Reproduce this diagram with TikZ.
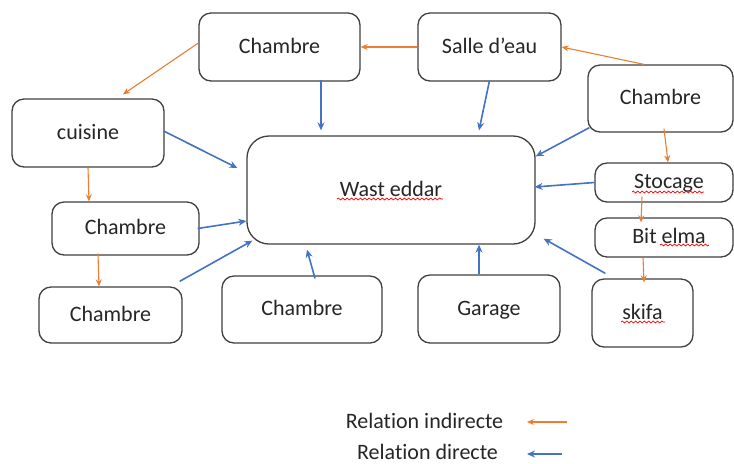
\documentclass[tikz,border=0pt]{standalone}
\usepackage{fontspec}
\setmainfont{Carlito}[Ligatures=NoCommon]
\usetikzlibrary{arrows.meta,decorations.pathmorphing}
\definecolor{indc}{HTML}{ED7D31}
\definecolor{dirc}{HTML}{4472C4}
\definecolor{bord}{HTML}{404040}
\begin{document}
\begin{tikzpicture}[x=0.5pt,y=-0.5pt,
 room/.style={draw=bord,line width=0.65pt,rounded corners=6pt,font=\fontsize{11}{13}\selectfont,text=black!85,inner sep=0pt,text height=8pt,text depth=2pt},
 indarr/.style={draw=indc,line width=0.55pt,-{Stealth[length=3.5pt,width=3pt]}},
 dirarr/.style={draw=dirc,line width=0.8pt,-{Stealth[length=4pt,width=3.5pt]}},
 squig/.style={draw=red,line width=0.35pt,decorate,decoration={snake,amplitude=0.5pt,segment length=2.2pt}},
 lab/.style={font=\fontsize{11}{13}\selectfont,text=black!85,inner sep=0pt}]
\useasboundingbox[fill=white] (0,0) rectangle (734,463);

% rooms
\node[room,minimum width=80.5pt,minimum height=34pt] (ch1) at (279.5,47) {Chambre};
\node[room,minimum width=71.5pt,minimum height=34pt] (salle) at (489.5,47) {Salle d’eau};
\node[room,minimum width=72.5pt,minimum height=33.5pt] (ch2) at (660.5,98.5) {Chambre};
\node[room,minimum width=69pt,minimum height=19.5pt] (stoc) at (664,182.5) {\hspace*{5pt}Stocage};
\node[room,minimum width=69pt,minimum height=19.5pt] (bit) at (664,237.5) {\hspace*{5pt}Bit elma};
\node[room,minimum width=50.5pt,minimum height=34pt] (skifa) at (642.5,313) {skifa};
\node[room,rounded corners=11pt,minimum width=144pt,minimum height=54pt] (wast) at (391,190) {Wast eddar};
\node[room,minimum width=76pt,minimum height=34pt] (cuis) at (88,133) {cuisine};
\node[room,minimum width=73.5pt,minimum height=26.5pt] (ch3) at (125.5,228.5) {Chambre};
\node[room,minimum width=71.5pt,minimum height=28pt] (ch4) at (110.5,315) {Chambre};
\node[room,minimum width=80pt,minimum height=33.5pt] (ch5) at (302,309.5) {Chambre};
\node[room,minimum width=71pt,minimum height=34pt] (gar) at (489,309) {Garage};

% spell-check squiggles
\draw[squig] (337,199) -- (443,199);
\draw[squig] (632,192) -- (704,192);
\draw[squig] (660,245) -- (709,245);
\draw[squig] (621,322) -- (665,322);

% indirect relations
\draw[indarr] (salle.west) -- (ch1.east);
\draw[indarr] ([yshift=2pt]ch1.west) -- ([xshift=17.5pt,yshift=2pt]cuis.north);
\draw[indarr] ([xshift=-8.25pt]ch2.north) -- (salle.east);
\draw[indarr] ([xshift=1.75pt,yshift=2pt]ch2.south) -- ([xshift=2pt]stoc.north);
\draw[indarr] ([xshift=-11pt,yshift=3pt]stoc.south) -- ([xshift=-11.5pt,yshift=-2.5pt]bit.north);
\draw[indarr] ([xshift=-10.5pt]bit.south) -- ([xshift=0.75pt,yshift=-2pt]skifa.north);
\draw[indarr] (cuis.south) -- ([xshift=-18.25pt]ch3.north);
\draw[indarr] ([xshift=-13.75pt,yshift=1pt]ch3.south) -- ([xshift=-5.75pt]ch4.north);

% direct relations
\draw[dirarr] ([xshift=20.75pt,yshift=1pt]ch1.south) -- ([xshift=-35pt,yshift=2.5pt]wast.north);
\draw[dirarr] ([yshift=0.5pt]salle.south) -- ([xshift=44pt,yshift=2.5pt]wast.north);
\draw[dirarr] ([xshift=1pt,yshift=2.5pt]ch2.south west) -- ([yshift=-10.5pt]wast.north east);
\draw[dirarr] (stoc.west) -- ([xshift=-0.5pt,yshift=1.5pt]wast.east);
\draw[dirarr] ([xshift=7pt,yshift=2.5pt]skifa.north west) -- ([xshift=4pt,yshift=3pt]wast.south east);
\draw[dirarr] ([xshift=-5pt]gar.north) -- ([xshift=44pt]wast.south);
\draw[dirarr] ([xshift=6.5pt,yshift=-1.5pt]ch5.north) -- ([xshift=-42pt,yshift=-2.5pt]wast.south);
\draw[dirarr] ([xshift=-1.5pt,yshift=2.5pt]ch4.north east) -- ([xshift=3pt,yshift=2pt]wast.south west);
\draw[dirarr] ([xshift=-1pt]ch3.east) -- ([yshift=-15.5pt]wast.west);
\draw[dirarr] ([xshift=-0.5pt,yshift=1pt]cuis.east) -- ([xshift=-4.5pt,yshift=11pt]wast.west);

% legend
\node[lab] (lind) at (424.5,421) {Relation indirecte};
\node[lab] (ldir) at (427.5,452) {Relation directe};
\coordinate (li1) at (567,422);
\coordinate (li2) at (527,422);
\coordinate (ld1) at (562,454);
\coordinate (ld2) at (527,454);
\draw[indarr] (li1) -- (li2);
\draw[dirarr] (ld1) -- (ld2);
\end{tikzpicture}
\end{document}
